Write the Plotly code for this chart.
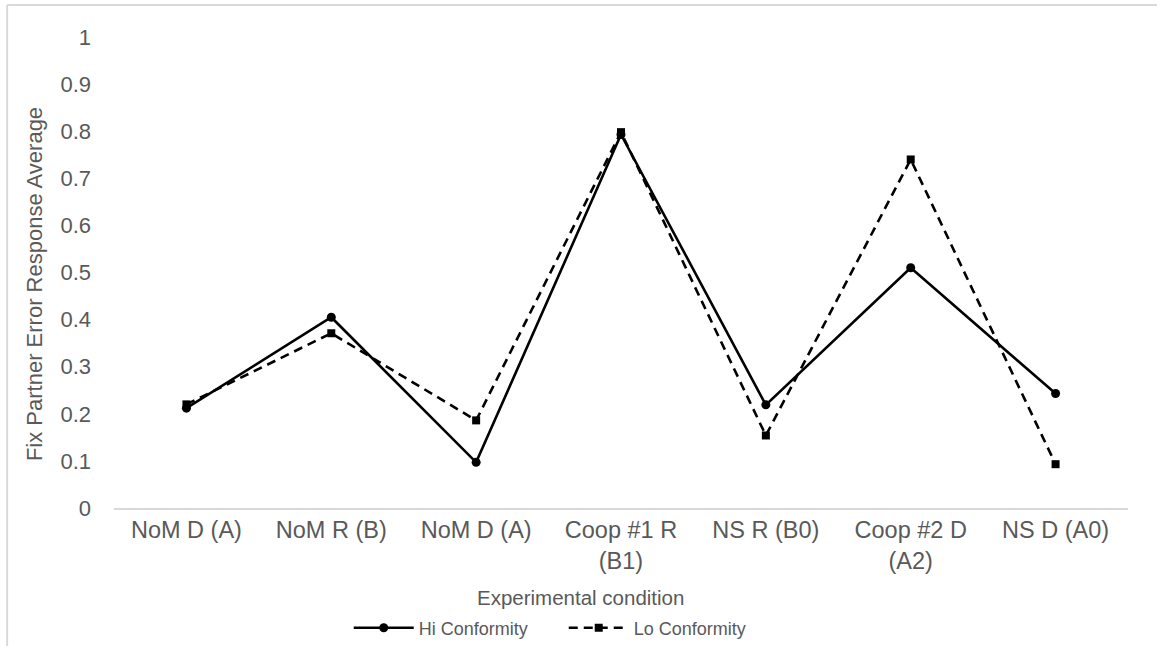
import plotly.graph_objects as go

# Conditions in presentation order (the first/third share a label)
categories = ["NoM D (A)", "NoM R (B)", "NoM D (A)", "Coop #1 R<br>(B1)",
              "NS R (B0)", "Coop #2 D<br>(A2)", "NS D (A0)"]
hi_conformity = [0.212, 0.405, 0.097, 0.793, 0.219, 0.510, 0.243]
lo_conformity = [0.220, 0.371, 0.186, 0.798, 0.154, 0.740, 0.093]
y_ticks = [0, 0.1, 0.2, 0.3, 0.4, 0.5, 0.6, 0.7, 0.8, 0.9, 1]
y_tick_labels = ["0", "0.1", "0.2", "0.3", "0.4", "0.5", "0.6", "0.7", "0.8", "0.9", "1"]

positions = list(range(len(categories)))
font_family = "Liberation Sans, Arial, sans-serif"
text_grey = "#595959"
axis_grey = "#d9d9d9"

fig = go.Figure()
fig.add_trace(go.Scatter(
    x=positions, y=hi_conformity, name="Hi Conformity", mode="lines+markers",
    line=dict(color="black", width=2.6),
    marker=dict(symbol="circle", size=9, color="black"),
))
fig.add_trace(go.Scatter(
    x=positions, y=lo_conformity, name="Lo Conformity", mode="lines+markers",
    line=dict(color="black", width=2.6, dash="9px,6px"),
    marker=dict(symbol="square", size=8, color="black"),
))

fig.update_layout(
    width=1157, height=646,
    margin=dict(l=114, r=29, t=37, b=138, autoexpand=False),
    paper_bgcolor="white", plot_bgcolor="white",
    font=dict(family=font_family, color=text_grey),
    showlegend=True,
    legend=dict(
        orientation="h", x=0.2315, xanchor="left", y=-0.255, yanchor="middle",
        font=dict(size=18, color=text_grey), itemwidth=60,
        entrywidth=140, entrywidthmode="pixels",
        bgcolor="rgba(0,0,0,0)",
    ),
    xaxis=dict(
        range=[-0.5, len(categories) - 0.5],
        tickmode="array", tickvals=positions, ticktext=categories,
        showgrid=False, zeroline=False,
        showline=True, linecolor=axis_grey, linewidth=2,
        ticks="", tickfont=dict(size=23.5, color=text_grey),
        automargin=False,
    ),
    yaxis=dict(
        range=[0, 1], tickmode="array", tickvals=y_ticks, ticktext=y_tick_labels,
        showgrid=False, zeroline=False, showline=False,
        ticks="", tickfont=dict(size=22, color=text_grey),
        ticklabelstandoff=22, automargin=False,
    ),
    annotations=[
        dict(text="Experimental condition", xref="paper", yref="paper",
             x=0.460, y=-0.191, xanchor="center", yanchor="middle",
             showarrow=False, font=dict(size=20.5, color=text_grey)),
        dict(text="Fix Partner Error Response Average", xref="paper", yref="paper",
             x=-0.0778, y=0.4756, xanchor="center", yanchor="middle", textangle=-90,
             showarrow=False, font=dict(size=22, color=text_grey)),
    ],
    shapes=[
        # light frame around the chart area (left and top edges)
        dict(type="line", xref="paper", yref="paper",
             x0=-0.1054, x1=-0.1054, y0=-0.35, y1=1.068,
             line=dict(color=axis_grey, width=2)),
        dict(type="line", xref="paper", yref="paper",
             x0=-0.1054, x1=1.05, y0=1.068, y1=1.068,
             line=dict(color=axis_grey, width=2)),
    ],
)

fig.write_html("out.html")
